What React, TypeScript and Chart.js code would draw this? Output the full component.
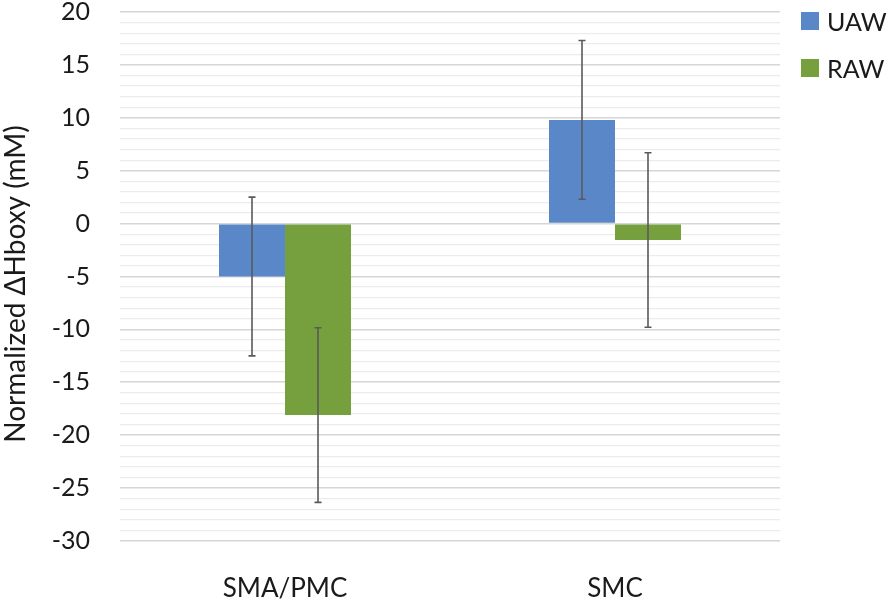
import React, { useEffect, useRef } from "react";
import { Chart, registerables } from "chart.js";

Chart.register(...registerables);

const categories = ["SMA/PMC", "SMC"];
const seriesNames = ["UAW", "RAW"];
const uawValues = [-5.0, 9.8];
const rawValues = [-18.1, -1.55];
const uawErrors = [7.5, 7.5];
const rawErrors = [8.25, 8.25];
const colors = ["#5A87C8", "#76A03E"];
const yMin = -30;
const yMax = 20;
const yTitle = "Normalized ΔHboxy (mM)";

const FONT = "Lato, 'Open Sans', sans-serif";

const errorBarPlugin = {
  id: "errorBars",
  afterDatasetsDraw(chart: any) {
    const ctx = chart.ctx;
    const yScale = chart.scales.y;
    const errs = [uawErrors, rawErrors];
    ctx.save();
    ctx.strokeStyle = "#5a5a5a";
    ctx.lineWidth = 1.6;
    chart.data.datasets.forEach((ds: any, di: number) => {
      const meta = chart.getDatasetMeta(di);
      meta.data.forEach((bar: any, i: number) => {
        const v = ds.data[i] as number;
        const e = errs[di][i];
        const x = bar.x;
        const yTop = yScale.getPixelForValue(v + e);
        const yBot = yScale.getPixelForValue(v - e);
        ctx.beginPath();
        ctx.moveTo(x, yTop);
        ctx.lineTo(x, yBot);
        ctx.moveTo(x - 3.5, yTop);
        ctx.lineTo(x + 3.5, yTop);
        ctx.moveTo(x - 3.5, yBot);
        ctx.lineTo(x + 3.5, yBot);
        ctx.stroke();
      });
    });
    ctx.restore();
  },
};

const yTitlePlugin = {
  id: "yTitle",
  afterDraw(chart: any) {
    const ctx = chart.ctx;
    ctx.save();
    ctx.translate(16, 284);
    ctx.rotate(-Math.PI / 2);
    ctx.font = `28px ${FONT}`;
    ctx.fillStyle = "#1a1a1a";
    ctx.textAlign = "center";
    ctx.textBaseline = "middle";
    ctx.fillText(yTitle, 0, 0);
    ctx.restore();
  },
};

export default function App() {
  const ref = useRef<HTMLCanvasElement>(null);
  useEffect(() => {
    document.body.style.margin = "0";
    if (!ref.current) return;
    const chart = new Chart(ref.current, {
      type: "bar",
      data: {
        labels: categories,
        datasets: [
          {
            label: seriesNames[0],
            data: uawValues,
            backgroundColor: colors[0],
            categoryPercentage: 0.4,
            barPercentage: 1.0,
          },
          {
            label: seriesNames[1],
            data: rawValues,
            backgroundColor: colors[1],
            categoryPercentage: 0.4,
            barPercentage: 1.0,
          },
        ],
      },
      options: {
        animation: false,
        responsive: false,
        layout: { padding: { top: 12, right: 114, left: 0, bottom: 0 } },
        plugins: {
          legend: { display: false },
          tooltip: { enabled: false },
        },
        scales: {
          x: {
            grid: { display: false },
            border: { display: false },
            ticks: {
              color: "#1a1a1a",
              font: { family: FONT, size: 26 },
              padding: 24,
            },
            afterFit(scale: any) {
              scale.height = 59;
              scale.paddingLeft = 0;
              scale.paddingRight = 0;
            },
          },
          y: {
            min: yMin,
            max: yMax,
            border: { display: false },
            grid: {
              drawTicks: false,
              color: (c: any) =>
                c.tick && c.tick.value % 5 === 0 ? "#d6d6d6" : "#ececec",
              lineWidth: (c: any) =>
                c.tick && c.tick.value % 5 === 0 ? 1.6 : 1.2,
            },
            ticks: {
              stepSize: 1,
              autoSkip: false,
              color: "#1a1a1a",
              font: { family: FONT, size: 25 },
              padding: 30,
              callback: (v: any) => (Number(v) % 5 === 0 ? String(v) : ""),
            },
            afterFit(scale: any) {
              scale.width = 120;
              scale.paddingTop = 0;
              scale.paddingBottom = 0;
            },
          },
        },
      },
      plugins: [errorBarPlugin, yTitlePlugin],
    });
    return () => chart.destroy();
  }, []);

  return (
    <div style={{ position: "relative", width: 894, height: 600 }}>
      <canvas ref={ref} width={894} height={600} style={{ width: 894, height: 600 }} />
      {seriesNames.map((n, i) => (
        <div
          key={n}
          style={{
            position: "absolute",
            left: 801,
            top: 6 + i * 47,
            display: "flex",
            alignItems: "center",
            fontFamily: FONT,
            fontSize: 25,
            color: "#1a1a1a",
          }}
        >
          <span
            style={{
              display: "inline-block",
              width: 18,
              height: 18,
              background: colors[i],
              marginRight: 8,
            }}
          />
          {n}
        </div>
      ))}
    </div>
  );
}
